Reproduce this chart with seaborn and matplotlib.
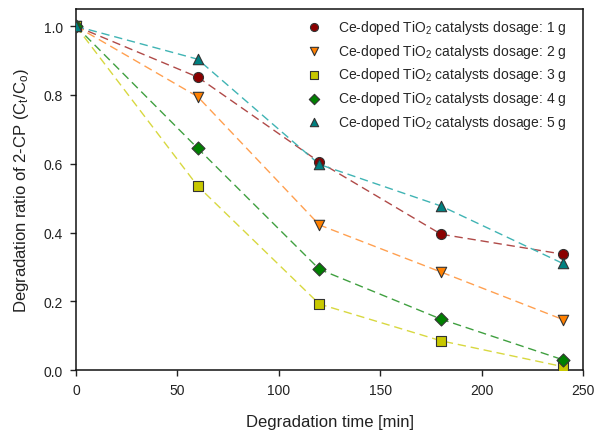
import matplotlib
matplotlib.use("Agg")
import matplotlib.pyplot as plt
import seaborn as sns
import pandas as pd

time_min = [0, 60, 120, 180, 240]
dosage_1g = [1.0, 0.852, 0.605, 0.395, 0.337]
dosage_2g = [1.0, 0.795, 0.422, 0.285, 0.147]
dosage_3g = [1.0, 0.535, 0.192, 0.085, 0.010]
dosage_4g = [1.0, 0.645, 0.293, 0.148, 0.030]
dosage_5g = [1.0, 0.904, 0.598, 0.477, 0.310]
labels = ["Ce-doped TiO$_2$ catalysts dosage: %d g" % i for i in range(1, 6)]
x_ticks = [0, 50, 100, 150, 200, 250]
y_ticks = [0.0, 0.2, 0.4, 0.6, 0.8, 1.0]

series = [dosage_1g, dosage_2g, dosage_3g, dosage_4g, dosage_5g]
marker_colors = ["#8b0000", "#ff8000", "#c8c800", "#008000", "#008080"]
line_colors = ["#b04a48", "#ffa050", "#d8d840", "#40a040", "#40b4b4"]
markers = ["o", "v", "s", "D", "^"]
sizes = [52, 56, 48, 44, 56]

sns.set_style("ticks")
plt.rcParams["font.family"] = ["Liberation Sans", "DejaVu Sans"]
plt.rcParams["mathtext.fontset"] = "custom"
plt.rcParams["mathtext.rm"] = "Liberation Sans"
plt.rcParams["mathtext.it"] = "Liberation Sans:italic"
plt.rcParams["mathtext.default"] = "regular"

fig = plt.figure(figsize=(5.95, 4.35), dpi=100)
ax = fig.add_axes([0.1277, 0.147, 0.8523, 0.83])

rows = []
for lab, vals in zip(labels, series):
    for t, v in zip(time_min, vals):
        rows.append({"t": t, "v": v, "lab": lab})
df = pd.DataFrame(rows)

for i, lab in enumerate(labels):
    d = df[df["lab"] == lab]
    sns.lineplot(data=d, x="t", y="v", ax=ax, color=line_colors[i],
                 linewidth=1.0, linestyle=(0, (6, 3.5)), zorder=2)
for i, lab in enumerate(labels):
    d = df[df["lab"] == lab]
    sns.scatterplot(data=d, x="t", y="v", ax=ax, color=marker_colors[i],
                    marker=markers[i], s=sizes[i], edgecolor="#333333",
                    linewidth=0.8, zorder=3, label=lab)

ax.set_xlim(0, 250)
ax.set_ylim(0, 1.05)
ax.set_xticks(x_ticks)
ax.set_yticks(y_ticks)
ax.set_xticklabels([str(v) for v in x_ticks])
ax.set_yticklabels(["%.1f" % v for v in y_ticks])
ax.tick_params(axis="both", labelsize=10, direction="out", length=4.5,
               width=1, colors="#222222", labelcolor="#222222", pad=5)
for s in ax.spines.values():
    s.set_linewidth(1.1)
    s.set_color("#111111")
ax.set_xlabel("Degradation time [min]", fontsize=12, labelpad=12, color="#222222")
ax.set_ylabel("Degradation ratio of 2-CP (C$_t$/C$_o$)", fontsize=12, labelpad=9, color="#222222")

leg = ax.legend(loc="upper right", bbox_to_anchor=(1.0, 1.022), frameon=False,
                fontsize=10, handletextpad=0.7, labelspacing=0.42,
                borderaxespad=0.8, markerscale=0.8)

fig.savefig("out.png", dpi=100)
